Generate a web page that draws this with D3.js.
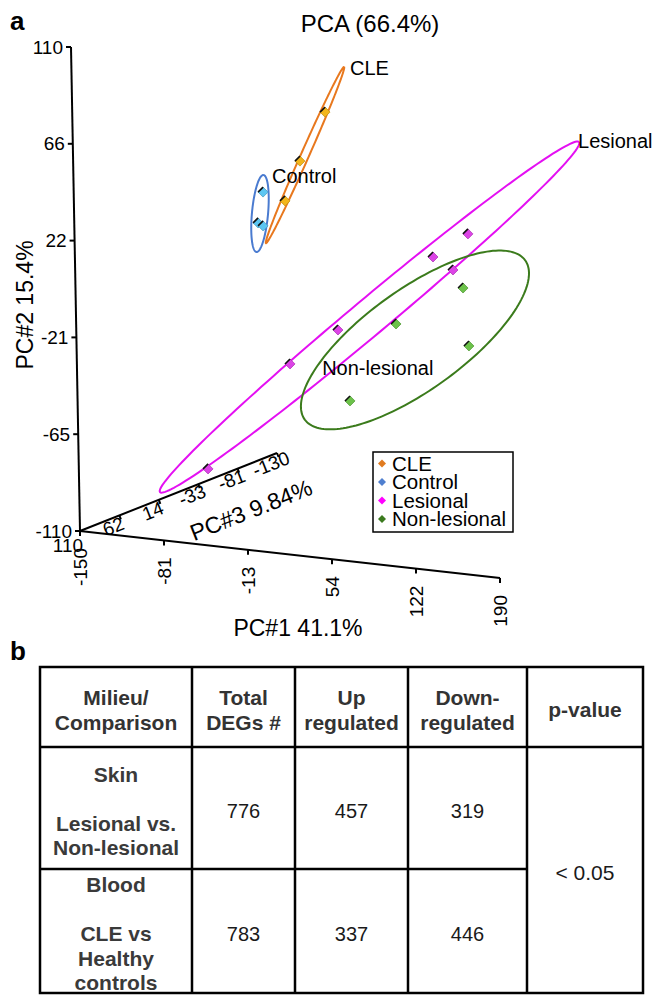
<!DOCTYPE html>
<html>
<head>
<meta charset="utf-8">
<script src="https://cdn.jsdelivr.net/npm/d3@7"></script>
<style>
  body { margin: 0; background: #fff; }
  svg { display: block; font-family: "Liberation Sans", Arial, sans-serif; }
</style>
</head>
<body>
<svg id="fig" width="660" height="995"></svg>
<script>
// ---- data (PC1, PC2 scores; PC3 taken on the front plane) ----
const groups = ["CLE", "Control", "Lesional", "Non-lesional"];
const cleScores = [[55.1, 93.3], [34.0, 69.7], [21.3, 50.8]];
const controlScores = [[3.6, 53.7], [-0.9, 39.4], [3.1, 38.3]];
const lesionalScores = [[-45.2, -75.2], [22.9, -23.2], [62.3, -5.3], [140.5, 32.8], [169.2, 45.1], [156.5, 27.9]];
const nonLesionalScores = [[109.5, 0.4], [164.4, 20.2], [168.3, -5.9], [71.0, -37.0]];

// confidence ellipses: centre + two conjugate semi-axes, in PC units
const ellipseCentres = [[38.2, 72.7], [0.8, 43.8], [88.1, 2.2], [124.6, -5.9]];
const ellipseMajor = [[33.0, 42.1], [3.4, 17.7], [172.6, 90.4], [90.6, 41.9]];
const ellipseMinor = [[3.0, -0.5], [6.5, 0.1], [9.1, -5.7], [23.2, -17.0]];

const pc1Ticks = ["-150", "-81", "-13", "54", "122", "190"];
const pc2Ticks = ["110", "66", "22", "-21", "-65", "-110"];
const pc3Ticks = ["110", "62", "14", "-33", "-81", "-130"];

// table b
const tableHeader = [["Milieu/", "Comparison"], ["Total", "DEGs #"], ["Up", "regulated"], ["Down-", "regulated"], ["p-value"]];
const milieu = [["Skin", "", "Lesional vs.", "Non-lesional"], ["Blood", "", "CLE vs", "Healthy", "controls"]];
const totalDEGs = [776, 783];
const upRegulated = [457, 337];
const downRegulated = [319, 446];
const pValue = "< 0.05";

// ---- styling ----
const strokeColor = d3.scaleOrdinal(groups, ["#e8781e", "#4a7bd0", "#e410f2", "#3b7b1c"]);
const pointColor = d3.scaleOrdinal(groups, ["#f2b61c", "#5cc6f2", "#dc44e6", "#6cc24a"]);
const legendColor = d3.scaleOrdinal(groups, ["#e07b20", "#4f7fcf", "#ff00ff", "#3b7a1e"]);
const scores = [cleScores, controlScores, lesionalScores, nonLesionalScores];
const labelOffset = [[6, 8], [8.5, 7.5], [-1, 6], [-203, 115]];

const svg = d3.select("#fig");

// oblique 3D projection of the PCA box
const origin = [80, 531];
const s1 = d3.scaleLinear().domain([-150, 190]).range([0, 1]);
const s2 = d3.scaleLinear().domain([-110, 110]).range([0, 1]);
const s3 = d3.scaleLinear().domain([110, -130]).range([0, 1]);
const u1 = [420, 47], u2 = [-9, -484], u3 = [197, -78];
function proj(p1, p2, p3 = 110) {
  const a = s1(p1), b = s2(p2), c = s3(p3);
  return [origin[0] + a * u1[0] + b * u2[0] + c * u3[0],
          origin[1] + a * u1[1] + b * u2[1] + c * u3[1]];
}
const line = d3.line();

// panel letters + title
svg.append("text").attr("x", 10).attr("y", 30).attr("font-size", 26).attr("font-weight", "bold").text("a");
svg.append("text").attr("x", 10).attr("y", 660).attr("font-size", 26).attr("font-weight", "bold").text("b");
svg.append("text").attr("x", 370).attr("y", 32).attr("text-anchor", "middle").attr("font-size", 24).text("PCA (66.4%)");

const axes = svg.append("g").attr("stroke", "#000").attr("stroke-width", 2).attr("fill", "none");
axes.append("path").attr("d", line([proj(-150, -110), proj(-150, 110)]));
axes.append("path").attr("d", line([proj(-150, -110), proj(190, -110)]));
axes.append("path").attr("d", line([proj(-150, -110), proj(-150, -110, -130)]));

// PC2 (vertical)
const pc2Vals = d3.range(6).map(i => 110 - i * 44);
pc2Vals.forEach((v, i) => {
  const p = proj(-150, v);
  axes.append("path").attr("d", line([p, [p[0] - 5, p[1]]]));
  svg.append("text").attr("x", p[0] - 8).attr("y", p[1]).attr("dy", "0.35em")
    .attr("text-anchor", "end").attr("font-size", 19).text(pc2Ticks[i]);
});
// PC1
const pc1Vals = d3.range(6).map(i => -150 + i * 68);
pc1Vals.forEach((v, i) => {
  const p = proj(v, -110);
  axes.append("path").attr("d", line([p, [p[0], p[1] + 5]]));
  svg.append("text").attr("transform", `translate(${p[0]},${p[1] + 17}) rotate(-90)`)
    .attr("dy", "0.35em").attr("text-anchor", "end").attr("font-size", 19).text(pc1Ticks[i]);
});
// PC3 (depth)
const ang = Math.atan2(u3[1], u3[0]) * 180 / Math.PI;
const pc3Vals = d3.range(6).map(i => 110 - i * 48);
pc3Vals.forEach((v, i) => {
  const p = proj(-150, -110, v);
  if (i > 0) axes.append("path").attr("d", line([p, [p[0] + 1.5, p[1] + 4]]));
  svg.append("text").attr("transform", `translate(${p[0] - (i === 0 ? 12 : 6)},${p[1] + (i === 0 ? 14 : 11)}) rotate(${i === 0 ? 0 : ang})`)
    .attr("dy", "0.35em").attr("text-anchor", "middle").attr("font-size", 19).text(pc3Ticks[i]);
});

// axis titles
svg.append("text").attr("transform", "translate(33,305) rotate(-90)").attr("text-anchor", "middle")
  .attr("font-size", 23).text("PC#2 15.4%");
svg.append("text").attr("x", 298).attr("y", 636).attr("text-anchor", "middle").attr("font-size", 23).text("PC#1 41.1%");
svg.append("text").attr("transform", `translate(251,510) rotate(${ang})`).attr("text-anchor", "middle")
  .attr("dy", "0.35em").attr("font-size", 23).text("PC#3 9.84%");

// ellipses
const ts = d3.range(0, 2 * Math.PI + 0.001, Math.PI / 90);
groups.forEach((g, i) => {
  const c = ellipseCentres[i], a = ellipseMajor[i], b = ellipseMinor[i];
  const pts = ts.map(t => proj(c[0] + Math.cos(t) * a[0] + Math.sin(t) * b[0],
                               c[1] + Math.cos(t) * a[1] + Math.sin(t) * b[1]));
  svg.append("path").attr("d", line(pts)).attr("fill", "none")
    .attr("stroke", strokeColor(g)).attr("stroke-width", 2);
  const tip = proj(c[0] + a[0], c[1] + a[1]);
  svg.append("text").attr("x", tip[0] + labelOffset[i][0]).attr("y", tip[1] + labelOffset[i][1])
    .attr("font-size", 20).text(g);
});

// points: small shaded diamonds
const diamond = r => `M0,${-r}L${r},0L0,${r}L${-r},0Z`;
groups.forEach((g, i) => {
  const pg = svg.append("g").selectAll("g").data(scores[i]).join("g")
    .attr("transform", d => `translate(${proj(d[0], d[1])})`);
  pg.append("path").attr("d", diamond(5)).attr("fill", pointColor(g))
    .attr("stroke", d3.color(pointColor(g)).darker(0.6)).attr("stroke-width", 0.8);
  pg.append("path").attr("d", "M-5,0L0,-5").attr("stroke", "#111").attr("stroke-width", 1.6);
});

// legend
const lg = svg.append("g").attr("transform", "translate(373,452)");
lg.append("rect").attr("width", 140).attr("height", 80).attr("fill", "#fff")
  .attr("stroke", "#000").attr("stroke-width", 1.5);
groups.forEach((g, i) => {
  const y = 11.5 + i * 18.5;
  lg.append("path").attr("transform", `translate(9,${y})`).attr("d", diamond(4)).attr("fill", legendColor(g));
  lg.append("text").attr("x", 19).attr("y", y).attr("dy", "0.35em").attr("font-size", 20.5).text(g);
});

// ---- table ----
const colEdges = [40, 192, 295, 408, 527, 643];
const rowEdges = [667, 747, 869, 993];
const colMid = i => (colEdges[i] + colEdges[i + 1]) / 2;
const tb = svg.append("g");
const tl = tb.append("g").attr("stroke", "#000").attr("stroke-width", 2.5);
tl.append("rect").attr("x", colEdges[0]).attr("y", rowEdges[0]).attr("fill", "none")
  .attr("width", colEdges[5] - colEdges[0]).attr("height", rowEdges[3] - rowEdges[0]);
colEdges.slice(1, 5).forEach(x => tl.append("line").attr("x1", x).attr("x2", x).attr("y1", rowEdges[0]).attr("y2", rowEdges[3]));
tl.append("line").attr("x1", colEdges[0]).attr("x2", colEdges[5]).attr("y1", rowEdges[1]).attr("y2", rowEdges[1]);
tl.append("line").attr("x1", colEdges[0]).attr("x2", colEdges[4]).attr("y1", rowEdges[2]).attr("y2", rowEdges[2]);

function block(lines, x, cy, lh, opts) {
  const top = cy - (lines.length - 1) * lh / 2;
  lines.forEach((s, k) => {
    tb.append("text").attr("x", x).attr("y", top + k * lh).attr("dy", "0.35em")
      .attr("text-anchor", "middle").attr("font-size", opts.size)
      .attr("font-weight", opts.bold ? "bold" : null).attr("fill", opts.fill).text(s);
  });
}
tableHeader.forEach((h, i) => block(h, colMid(i), 710, 25, { size: 21, bold: true, fill: "#333" }));
const rowCentres = [811, 934];
milieu.forEach((m, r) => {
  block(m, colMid(0), rowCentres[r], 24.5, { size: 21, bold: true, fill: "#3a3a3a" });
  block([String(totalDEGs[r])], colMid(1), rowCentres[r], 24, { size: 20, fill: "#1a1a1a" });
  block([String(upRegulated[r])], colMid(2), rowCentres[r], 24, { size: 20, fill: "#1a1a1a" });
  block([String(downRegulated[r])], colMid(3), rowCentres[r], 24, { size: 20, fill: "#1a1a1a" });
});
block([pValue], colMid(4), 873, 24, { size: 21, fill: "#1a1a1a" });
</script>
</body>
</html>
